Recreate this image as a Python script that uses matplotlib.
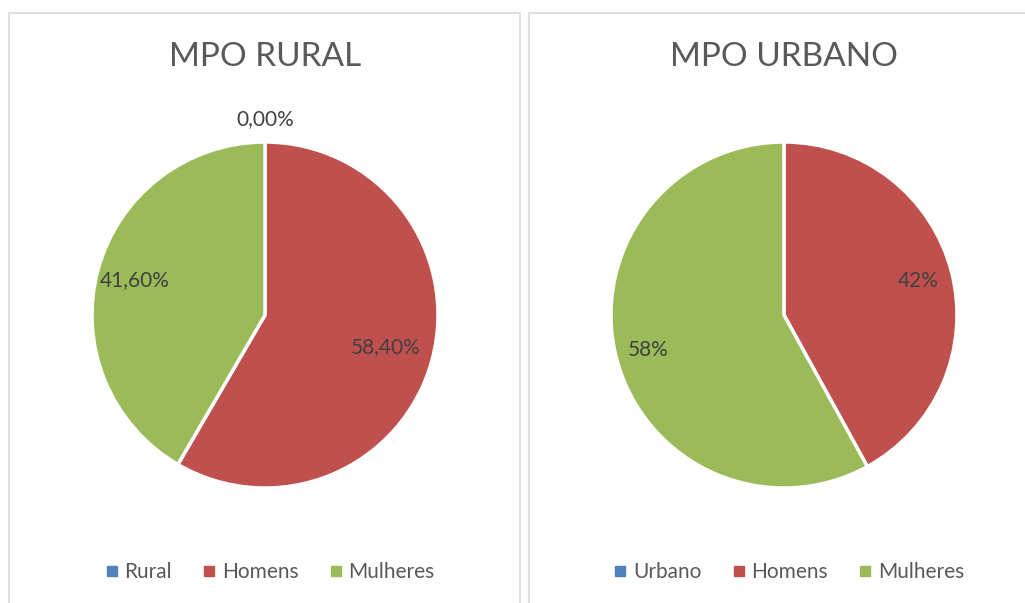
import matplotlib.pyplot as plt
import numpy as np
from matplotlib.patches import Rectangle
from matplotlib.lines import Line2D

plt.rcParams['font.family'] = ['Lato', 'DejaVu Sans']

titles = ["MPO RURAL", "MPO URBANO"]
left_labels = ["Rural", "Homens", "Mulheres"]
left_values = [0.0, 58.4, 41.6]
right_labels = ["Urbano", "Homens", "Mulheres"]
right_values = [0.0, 42.0, 58.0]

colors = ['#4F81BD', '#C0504D', '#9BBB59']
W, H = 1025, 603

fig = plt.figure(figsize=(W / 100, H / 100), dpi=100)

# panel borders (chart areas in the sheet)
for x0, x1 in [(9, 520), (529, 1040)]:
    fig.add_artist(Rectangle((x0 / W, -0.1), (x1 - x0) / W, 1.1 - 13 / H,
                             transform=fig.transFigure, fill=False,
                             edgecolor='#D9D9D9', linewidth=1.2))


def draw_pie(cx, title, labels, values, fmt, dists):
    r = 173
    ax = fig.add_axes([(cx - r) / W, (H - 315 - r) / H, 2 * r / W, 2 * r / H])
    wedges, _ = ax.pie(values, colors=colors, startangle=90, counterclock=False,
                       wedgeprops=dict(edgecolor='white', linewidth=2.5))
    ax.set_xlim(-1, 1)
    ax.set_ylim(-1, 1)
    ax.set_aspect('equal')
    ax.axis('off')
    for w, v, d in zip(wedges, values, dists):
        if d is None:
            continue
        ang = np.deg2rad((w.theta1 + w.theta2) / 2)
        ax.text(d * np.cos(ang), d * np.sin(ang), fmt(v), ha='center',
                va='center', fontsize=15, color='#404040', clip_on=False)
    fig.text(cx / W, 1 - 57 / H, title, ha='center', va='center',
             fontsize=24, color='#595959')
    handles = [Line2D([], [], marker='s', linestyle='none', markersize=7,
                      markerfacecolor=c, markeredgecolor=c) for c in colors]
    fig.legend(handles, labels, loc='center', bbox_to_anchor=((cx + 3) / W, 1 - 572 / H),
               ncol=3, frameon=False, fontsize=15, labelcolor='#595959',
               handletextpad=0.1, columnspacing=1.3, handlelength=1.0)


draw_pie(265, titles[0], left_labels, left_values,
         lambda v: f"{v:.2f}%".replace('.', ','), [1.13, 0.72, 0.78])
draw_pie(784, titles[1], right_labels, right_values,
         lambda v: f"{v:.0f}%", [None, 0.8, 0.81])

fig.savefig('out.png', dpi=100)
